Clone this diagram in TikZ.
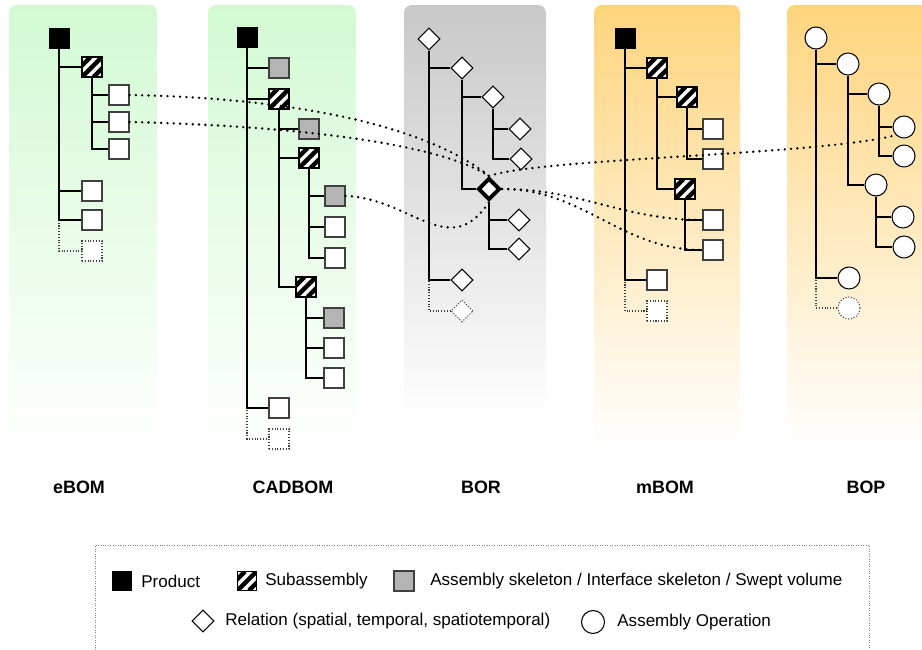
\documentclass[tikz,border=0pt]{standalone}
\usepackage{fontspec}
\setmainfont{Liberation Sans}
\usetikzlibrary{shapes.geometric}

\definecolor{bomgreen}{RGB}{210,250,210}
\definecolor{bomorange}{RGB}{255,212,125}
\definecolor{borgray}{RGB}{200,200,200}
\definecolor{skelgray}{RGB}{180,180,180}

\tikzset{
    product/.style={draw, fill=black, minimum size=0.4cm, inner sep=0pt},
    part/.style={draw=black!75, fill=white, minimum size=0.4cm, inner sep=0pt, line width=0.6pt},
    skel/.style={part, fill=skelgray},
    subasm/.style={part, draw=black, path picture={
        \foreach \s in {-0.23,0,0.23}
            \draw[line width=0.09cm] ([xshift=\s cm]path picture bounding box.south west) -- ([xshift=\s cm]path picture bounding box.north east);}},
    ghost/.style={part, densely dotted},
    rel/.style={diamond, draw, fill=white, minimum size=0.44cm, inner sep=0pt, line width=0.6pt},
    keyrel/.style={rel, line width=2.2pt},
    oper/.style={circle, draw, fill=white, minimum size=0.44cm, inner sep=0pt, line width=0.6pt},
    branch/.style={line width=0.6pt},
    dotlink/.style={line width=1.5pt, line cap=round, dash pattern=on 0pt off 3.6pt},
    bomtitle/.style={font=\fontsize{10.2}{12}\selectfont\bfseries},
    keytext/.style={anchor=west, inner sep=0pt, font=\fontsize{9.7}{12}\selectfont},
}

\begin{document}
\begin{tikzpicture}[x=0.02cm, y=-0.02cm]
            \useasboundingbox (0,0) rectangle (922,649);

            \shade[top color=bomgreen, bottom color=white, rounded corners=4.5pt] (9,5) rectangle (157,445);
            \shade[top color=bomgreen, bottom color=white, rounded corners=4.5pt] (208,5) rectangle (356,445);
            \shade[top color=borgray, bottom color=white, rounded corners=4.5pt] (404,5) rectangle (546,420);
            \shade[top color=bomorange, bottom color=white, rounded corners=4.5pt] (594,5) rectangle (740,445);
            \shade[top color=bomorange, bottom color=white, rounded corners=4.5pt] (787,5) rectangle (935,445);

            \node[product] (E Root) at (59,38) {};
            \node[subasm] (E Sub) at (92,67) {};
            \node[part] (E Part 1) at (119,95) {};
            \node[part] (E Part 2) at (119,122) {};
            \node[part] (E Part 3) at (119,149) {};
            \node[part] (E Part 4) at (92,191) {};
            \node[part] (E Part 5) at (92,220) {};
            \node[ghost] (E Part 6) at (92,251) {};

            \node[product] (C Root) at (247,37) {};
            \node[skel] (C Skel 1) at (279,68) {};
            \node[subasm] (C Sub 1) at (279,99) {};
            \node[skel] (C Skel 2) at (309,129) {};
            \node[subasm] (C Sub 2) at (309,158) {};
            \node[skel] (C Skel 3) at (335,196) {};
            \node[part] (C Part 1) at (335,227) {};
            \node[part] (C Part 2) at (335,258) {};
            \node[subasm] (C Sub 3) at (306,287) {};
            \node[skel] (C Skel 4) at (334,318) {};
            \node[part] (C Part 3) at (334,348) {};
            \node[part] (C Part 4) at (334,378) {};
            \node[part] (C Part 5) at (279,408) {};
            \node[ghost] (C Part 6) at (279,439) {};

            \node[rel] (R Root) at (429,39) {};
            \node[rel] (R 1) at (462,68) {};
            \node[rel] (R 2) at (493,97) {};
            \node[rel] (R 3) at (520,129) {};
            \node[rel] (R 4) at (521,159) {};
            \node[keyrel] (R Key) at (489,189) {};
            \node[rel] (R 5) at (519,220) {};
            \node[rel] (R 6) at (519,249) {};
            \node[rel] (R 7) at (462,280) {};
            \node[rel, densely dotted, draw=black!75] (R 8) at (462,311) {};

            \node[product] (M Root) at (625,38) {};
            \node[subasm] (M Sub 1) at (657,68) {};
            \node[subasm] (M Sub 2) at (687,97) {};
            \node[part] (M Part 1) at (713,129) {};
            \node[part] (M Part 2) at (713,159) {};
            \node[subasm] (M Sub 3) at (685,189) {};
            \node[part] (M Part 3) at (713,220) {};
            \node[part] (M Part 4) at (713,250) {};
            \node[part] (M Part 5) at (657,280) {};
            \node[ghost] (M Part 6) at (657,311) {};

            \node[oper] (P Root) at (816,38) {};
            \node[oper] (P 1) at (848,64) {};
            \node[oper] (P 2) at (879,94) {};
            \node[oper] (P 3) at (904,127) {};
            \node[oper] (P 4) at (904,156) {};
            \node[oper] (P 5) at (876,185) {};
            \node[oper] (P 6) at (903,217) {};
            \node[oper] (P 7) at (904,247) {};
            \node[oper] (P 8) at (849,278) {};
            \node[oper, densely dotted, draw=black!75] (P 9) at (849,308) {};

            \draw[branch, densely dotted, black!75] (E Root.south) |- (E Part 6.west);
            \draw[branch] (E Root.south) |- (E Sub.west);
            \draw[branch] (E Root.south) |- (E Part 4.west);
            \draw[branch] (E Root.south) |- (E Part 5.west);
            \draw[branch] (E Sub.south) |- (E Part 1.west);
            \draw[branch] (E Sub.south) |- (E Part 2.west);
            \draw[branch] (E Sub.south) |- (E Part 3.west);

            \draw[branch, densely dotted, black!75] (C Root.south) |- (C Part 6.west);
            \draw[branch] (C Root.south) |- (C Skel 1.west);
            \draw[branch] (C Root.south) |- (C Sub 1.west);
            \draw[branch] (C Root.south) |- (C Part 5.west);
            \draw[branch] (C Sub 1.south) |- (C Skel 2.west);
            \draw[branch] (C Sub 1.south) |- (C Sub 2.west);
            \draw[branch] (C Sub 1.south) |- (C Sub 3.west);
            \draw[branch] (C Sub 2.south) |- (C Skel 3.west);
            \draw[branch] (C Sub 2.south) |- (C Part 1.west);
            \draw[branch] (C Sub 2.south) |- (C Part 2.west);
            \draw[branch] (C Sub 3.south) |- (C Skel 4.west);
            \draw[branch] (C Sub 3.south) |- (C Part 3.west);
            \draw[branch] (C Sub 3.south) |- (C Part 4.west);

            \draw[branch, densely dotted, black!75] (R Root.south) |- (R 8.west);
            \draw[branch] (R Root.south) |- (R 1.west);
            \draw[branch] (R Root.south) |- (R 7.west);
            \draw[branch] (R 1.south) |- (R 2.west);
            \draw[branch] (R 1.south) |- (R Key.west);
            \draw[branch] (R 2.south) |- (R 3.west);
            \draw[branch] (R 2.south) |- (R 4.west);
            \draw[branch] (R Key.south) |- (R 5.west);
            \draw[branch] (R Key.south) |- (R 6.west);

            \draw[branch, densely dotted, black!75] (M Root.south) |- (M Part 6.west);
            \draw[branch] (M Root.south) |- (M Sub 1.west);
            \draw[branch] (M Root.south) |- (M Part 5.west);
            \draw[branch] (M Sub 1.south) |- (M Sub 2.west);
            \draw[branch] (M Sub 1.south) |- (M Sub 3.west);
            \draw[branch] (M Sub 2.south) |- (M Part 1.west);
            \draw[branch] (M Sub 2.south) |- (M Part 2.west);
            \draw[branch] (M Sub 3.south) |- (M Part 3.west);
            \draw[branch] (M Sub 3.south) |- (M Part 4.west);

            \draw[branch, densely dotted, black!75] (P Root.south) |- (P 9.west);
            \draw[branch] (P Root.south) |- (P 1.west);
            \draw[branch] (P Root.south) |- (P 8.west);
            \draw[branch] (P 1.south) |- (P 2.west);
            \draw[branch] (P 1.south) |- (P 5.west);
            \draw[branch] (P 2.south) |- (P 3.west);
            \draw[branch] (P 2.south) |- (P 4.west);
            \draw[branch] (P 5.south) |- (P 6.west);
            \draw[branch] (P 5.south) |- (P 7.west);

            \draw[dotlink] (E Part 1.east) .. controls +(172,3) and +(-59,-48) .. (R Key.north);
            \draw[dotlink] (E Part 2.east) .. controls +(171,4) and +(-49,-32) .. (R Key.north);
            \draw[dotlink] (C Skel 3.east) .. controls +(65,2) and +(-39,60) .. (R Key.south);
            \draw[dotlink] (R Key.north) .. controls +(51,-18) and +(-76,20) .. (P 3.south west);
            \draw[dotlink] (R Key.east) to[out=0, in=180] (M Part 3.west);
            \draw[dotlink] (R Key.east) to[out=0, in=180] (M Part 4.west);

            \node[bomtitle] (eBOM) at (79,487) {eBOM};
            \node[bomtitle] (CADBOM) at (293,487) {CADBOM};
            \node[bomtitle] (BOR) at (481,487) {BOR};
            \node[bomtitle] (mBOM) at (665,487) {mBOM};
            \node[bomtitle] (BOP) at (866,487) {BOP};

            \draw[gray, densely dotted, line width=0.4pt] (95,660) |- (869,545) -- (869,660);

            \node[product, minimum size=0.38cm] (Key Product) at (122,581) {};
            \node[keytext] (Key Product Text) at (141,581) {Product};
            \node[subasm, minimum size=0.38cm] (Key Sub) at (247,581) {};
            \node[keytext] (Key Sub Text) at (265,581) {Subassembly};
            \node[skel] (Key Skel) at (404,581) {};
            \node[keytext] (Key Skel Text) at (430,581) {Assembly skeleton / Interface skeleton / Swept volume};
            \node[rel] (Key Rel) at (203,621) {};
            \node[keytext] (Key Rel Text) at (225,621) {Relation (spatial, temporal, spatiotemporal)};
            \node[oper, minimum size=0.46cm] (Key Oper) at (593,622) {};
            \node[keytext] (Key Oper Text) at (617,622) {Assembly Operation};
        \end{tikzpicture}
\end{document}
